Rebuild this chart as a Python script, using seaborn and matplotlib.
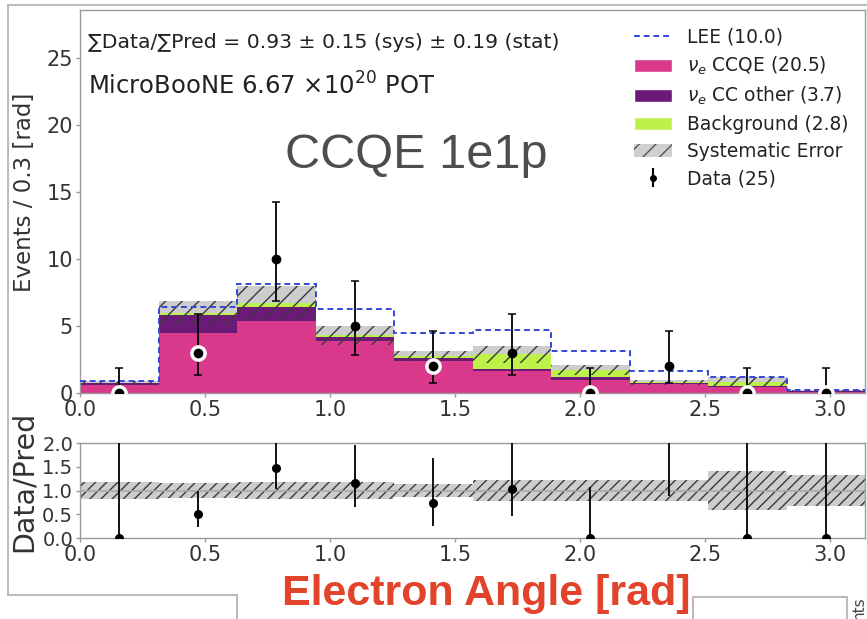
import numpy as np
import pandas as pd
import matplotlib
matplotlib.use("Agg")
import matplotlib.pyplot as plt
from matplotlib.lines import Line2D
from matplotlib.patches import Patch
import seaborn as sns

# ---- binning in reconstructed electron angle [rad] ----
bin_edges = np.linspace(0.0, np.pi, 11)
bin_centers = 0.5 * (bin_edges[:-1] + bin_edges[1:])

# ---- predicted event counts per bin ----
nue_ccqe = [0.60, 4.50, 5.35, 3.85, 2.40, 1.65, 1.00, 0.65, 0.45, 0.05]
nue_cc_other = [0.15, 1.35, 1.05, 0.30, 0.25, 0.15, 0.20, 0.08, 0.10, 0.07]
background = [0.02, 0.15, 0.35, 0.15, 0.10, 1.10, 0.50, 0.08, 0.30, 0.05]
lee_excess = [0.10, 0.40, 1.40, 1.95, 1.70, 1.80, 1.40, 0.85, 0.35, 0.05]
sys_frac = [0.18, 0.15, 0.18, 0.17, 0.14, 0.22, 0.22, 0.22, 0.42, 0.33]
sys_total_frac = 0.15

# ---- observed data with 68% Poisson intervals ----
data_counts = [0, 3, 10, 5, 2, 3, 0, 2, 0, 0]
data_lo = [0.0, 1.37, 6.90, 2.84, 0.71, 1.37, 0.0, 0.71, 0.0, 0.0]
data_hi = [1.84, 5.92, 14.27, 8.38, 4.64, 5.92, 1.84, 4.64, 1.84, 1.84]

pot_label = r"MicroBooNE 6.67 $\times$10$^{20}$ POT"
channel_label = "CCQE 1e1p"
xlabel = "Electron Angle [rad]"

c_ccqe = "#d8398b"
c_other = "#6c1a77"
c_bkg = "#bdf24a"
c_lee = "#3346d8"
c_axis = "#9a9a9a"
c_text = "#333333"

sns.set_theme(style="ticks")
plt.rcParams["font.family"] = ["DejaVu Sans"]
plt.rcParams["hatch.linewidth"] = 1.0

ccqe = np.array(nue_ccqe)
other = np.array(nue_cc_other)
bkg = np.array(background)
lee = np.array(lee_excess)
total = ccqe + other + bkg
counts = np.array(data_counts, dtype=float)
sfrac = np.array(sys_frac)

layers = pd.DataFrame({
    "angle": np.tile(bin_centers, 4),
    "events": np.concatenate([total + lee, total, ccqe + other, ccqe]),
    "layer": np.repeat(["lee", "bkg", "other", "ccqe"], len(bin_centers)),
})

W, H = 867, 619
fig = plt.figure(figsize=(W / 100, H / 100), dpi=100)
ax = fig.add_axes([80 / W, 1 - 393 / H, 785 / W, 383 / H])
rax = fig.add_axes([80 / W, 1 - 538 / H, 785 / W, 95 / H])


def step_vals(v):
    return np.append(v, v[-1])


band_lo = total * (1 - sfrac)
band_hi = total * (1 + sfrac)

# grey systematic band behind the stack
ax.fill_between(bin_edges, step_vals(band_lo), step_vals(band_hi), step="post",
                facecolor="#cdcdcd", linewidth=0, zorder=1)

# stacked prediction, drawn from the top layer downward
for name, color in [("bkg", c_bkg), ("other", c_other), ("ccqe", c_ccqe)]:
    sns.histplot(data=layers[layers.layer == name], x="angle", weights="events",
                 bins=list(bin_edges), element="step", fill=True, color=color,
                 alpha=1.0, linewidth=0, ax=ax, zorder=2)

# hatching of the systematic band over the stack
ax.fill_between(bin_edges, step_vals(band_lo), step_vals(band_hi), step="post",
                facecolor="none", edgecolor="#3a3a3a", hatch="//", linewidth=0,
                zorder=3)

# LEE signal on top of prediction
ax.stairs(total + lee, bin_edges, color=c_lee, linestyle=(0, (3, 2)),
          linewidth=1.4, zorder=4, baseline=None)

# data points; white halo where the point sits below the prediction
ax.errorbar(bin_centers, counts,
            yerr=[counts - np.array(data_lo), np.array(data_hi) - counts],
            fmt="none", ecolor="black", elinewidth=1.3, capsize=3, capthick=1.1,
            zorder=5)
below = counts < total
ax.plot(bin_centers[below], counts[below], "o", ms=11, mfc="white", mec="white",
        zorder=6)
ax.plot(bin_centers, counts, "o", ms=6, color="black", zorder=7)

ax.set_xlim(0, np.pi)
ax.set_ylim(0, 28.6)
ax.set_yticks([0, 5, 10, 15, 20, 25])
ax.set_xticks([0, 0.5, 1.0, 1.5, 2.0, 2.5, 3.0])
ax.set_xlabel("")
ax.set_ylabel("Events / 0.3 [rad]", fontsize=16.5, color=c_text)
ax.yaxis.set_label_coords(-0.056, 0.525)

# summary text
ratio_tot = counts.sum() / total.sum()
stat_err = np.sqrt(counts.sum()) / total.sum()
fig.text(88 / W, 1 - 42 / H,
         "\u2211Data/\u2211Pred = %.2f \u00b1 %.2f (sys) \u00b1 %.2f (stat)"
         % (ratio_tot, sys_total_frac, stat_err),
         fontsize=14.7, color="#222222", va="center", ha="left")
fig.text(88 / W, 1 - 86 / H, pot_label, fontsize=17.5, color="#222222",
         va="center", ha="left")
fig.text(416 / W, 1 - 155 / H, channel_label, fontsize=35, color="#4d4d4d",
         family="Liberation Sans", va="center", ha="center")

# legend
eb_handle = ax.errorbar([], [], yerr=[], fmt="o", color="black", ms=4, capsize=3)
handles = [
    Line2D([], [], color=c_lee, linestyle=(0, (3, 2)), lw=1.4),
    Patch(facecolor=c_ccqe),
    Patch(facecolor=c_other),
    Patch(facecolor=c_bkg),
    Patch(facecolor="#cfcfcf", edgecolor="#555555", hatch="//", linewidth=0),
    eb_handle,
]
labels = [
    "LEE (%.1f)" % lee.sum(),
    r"$\nu_e$ CCQE (%.1f)" % ccqe.sum(),
    r"$\nu_e$ CC other (%.1f)" % other.sum(),
    "Background (%.1f)" % bkg.sum(),
    "Systematic Error",
    "Data (%d)" % counts.sum(),
]
leg = ax.legend(handles, labels, loc="upper right", frameon=False, fontsize=13.4,
                labelspacing=0.43, handlelength=2.0, handletextpad=0.8,
                borderaxespad=0.3, bbox_to_anchor=(0.995, 0.988))
for t in leg.get_texts():
    t.set_color("#222222")

# ratio panel
ratio = counts / total
r_lo = np.array(data_lo) / total
r_hi = np.array(data_hi) / total
rax.fill_between(bin_edges, step_vals(1 - sfrac), step_vals(1 + sfrac), step="post",
                 facecolor="#cdcdcd", edgecolor="#3a3a3a",
                 hatch="///", linewidth=0, zorder=2)
rax.axhline(1.0, color="#a8a8a8", lw=1.2, zorder=2)
rax.errorbar(bin_centers, ratio, yerr=[ratio - r_lo, r_hi - ratio], fmt="o",
             color="black", ms=5.5, elinewidth=1.3, capsize=0, zorder=4)
rax.set_xlim(0, np.pi)
rax.set_ylim(0, 2.0)
rax.set_yticks([0, 0.5, 1.0, 1.5, 2.0])
rax.set_xticks([0, 0.5, 1.0, 1.5, 2.0, 2.5, 3.0])
rax.set_ylabel("Data/Pred", fontsize=20.5, color=c_text)
rax.yaxis.set_label_coords(-0.054, 0.6)

for a in (ax, rax):
    for s in a.spines.values():
        s.set_visible(True)
        s.set_color(c_axis)
        s.set_linewidth(1.0)
    a.tick_params(labelsize=15, colors=c_axis, labelcolor=c_text, length=3, width=1,
                  pad=2)
rax.tick_params(axis="y", labelsize=14)

fig.text(486 / W, 1 - 594 / H, xlabel, fontsize=31, fontweight="bold",
         family="Liberation Sans", color="#e2432b", va="center", ha="center")

# slide frame
frame_kw = dict(color="#bcbcbc", lw=1.5, transform=None)
fig.add_artist(Line2D([8, 8], [H - 5, H - 595], **frame_kw))
fig.add_artist(Line2D([8, W], [H - 5, H - 5], **frame_kw))
fig.add_artist(Line2D([8, 237], [H - 595, H - 595], **frame_kw))
fig.add_artist(Line2D([237, 237], [H - 595, 0], **frame_kw))
fig.add_artist(Line2D([693, 847], [H - 597, H - 597], **frame_kw))
fig.add_artist(Line2D([693, 693], [H - 597, 0], **frame_kw))
fig.add_artist(Line2D([847, 847], [H - 597, 0], **frame_kw))
fig.text(859 / W, 1 - 596 / H, "nts", rotation=90, fontsize=11, color="#444444",
         va="top", ha="center")

fig.savefig("out.png", dpi=100)
